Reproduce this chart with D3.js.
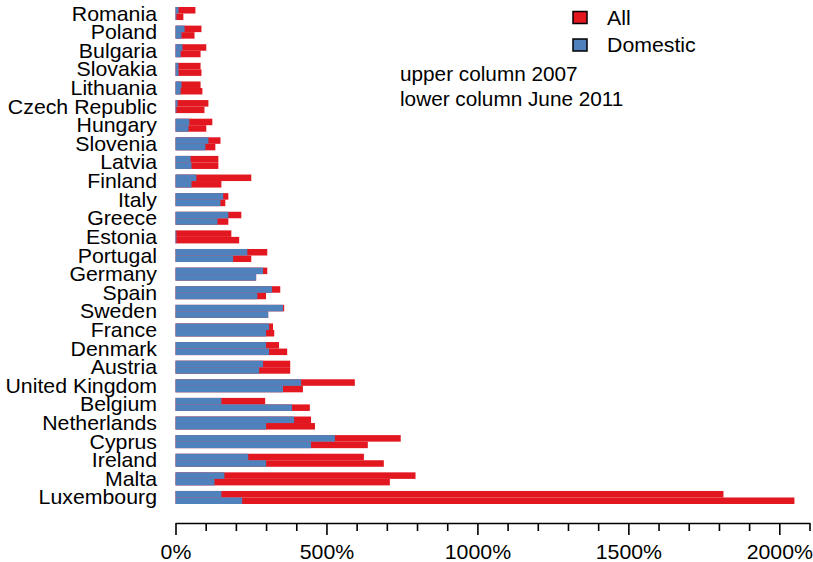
<!DOCTYPE html>
<html>
<head>
<meta charset="utf-8">
<script src="https://cdn.jsdelivr.net/npm/d3@7"></script>
<style>
  body { margin: 0; background: #fff; }
  svg { font-family: "Liberation Sans", Arial, Helvetica, sans-serif; }
</style>
</head>
<body>
<div id="chart"></div>
<script>
// countries, top to bottom
var countries = ["Romania", "Poland", "Bulgaria", "Slovakia", "Lithuania", "Czech Republic", "Hungary",
  "Slovenia", "Latvia", "Finland", "Italy", "Greece", "Estonia", "Portugal", "Germany", "Spain",
  "Sweden", "France", "Denmark", "Austria", "United Kingdom", "Belgium", "Netherlands", "Cyprus",
  "Ireland", "Malta", "Luxembourg"];

// upper column = 2007, lower column = June 2011 (percent)
var all2007 = [66, 86, 102, 83, 83, 109, 122, 149, 142, 251, 175, 218, 185, 304, 304, 347, 360, 323, 343, 380, 594, 297, 449, 746, 624, 795, 1815];
var dom2007 = [10, 30, 23, 10, 20, 7, 46, 109, 50, 69, 158, 175, 3, 238, 290, 320, 356, 310, 300, 290, 416, 152, 393, 528, 241, 162, 152];
var all2011 = [26, 63, 83, 86, 89, 96, 102, 132, 142, 152, 165, 175, 211, 251, 267, 300, 307, 327, 370, 380, 422, 445, 462, 637, 690, 710, 2050];
var dom2011 = [3, 20, 17, 10, 17, 3, 43, 99, 53, 53, 149, 139, 3, 191, 267, 271, 307, 300, 310, 277, 356, 386, 300, 449, 300, 129, 221];

var tickVals = d3.range(0, 2101, 100);
var legendNames = ["All", "Domestic"];
var notes = ["upper column 2007", "lower column June 2011"];

var red = "#e2171f", blue = "#4f81bd";
var W = 813, H = 562;
var sx = 1.065; // the original text is a bit wide

var svg = d3.select("#chart").append("svg")
    .attr("width", W)
    .attr("height", H);

var x = d3.scaleLinear()
    .domain([0, 2100])
    .range([175.5, 809.5]);

var step = 18.6;
var y = d3.scaleBand()
    .domain(countries)
    .range([7 - 0.15 * step, 504 + 0.15 * step])
    .paddingInner(0.3)
    .paddingOuter(0.15);

var bh = y.bandwidth() / 2;

// one row per country and period
var rows = [];
countries.forEach(function(c, i) {
  rows.push({c: c, off: 0, all: all2007[i], dom: dom2007[i]});
  rows.push({c: c, off: bh, all: all2011[i], dom: dom2011[i]});
});

var g = svg.append("g");
g.selectAll(".allBar")
  .data(rows)
  .enter().append("rect")
    .attr("class", "allBar")
    .attr("x", x(0))
    .attr("y", function(d) { return y(d.c) + d.off; })
    .attr("width", function(d) { return x(d.all) - x(0); })
    .attr("height", bh)
    .attr("fill", red);

g.selectAll(".domBar")
  .data(rows)
  .enter().append("rect")
    .attr("class", "domBar")
    .attr("x", x(0))
    .attr("y", function(d) { return y(d.c) + d.off; })
    .attr("width", function(d) { return x(d.dom) - x(0); })
    .attr("height", bh)
    .attr("fill", blue);

function wideText(sel, tx, ty, txt, anchor) {
  return sel.append("text")
    .attr("transform", "translate(" + tx + "," + ty + ") scale(" + sx + ",1)")
    .attr("text-anchor", anchor || "start")
    .attr("font-size", 20)
    .attr("fill", "#000")
    .text(txt);
}

// country names
var names = svg.append("g");
countries.forEach(function(c) {
  wideText(names, 157, y(c) + y.bandwidth() / 2 + 7, c, "end");
});

// x axis
var axis = svg.append("g")
    .attr("transform", "translate(0,523)")
    .call(d3.axisBottom(x)
      .tickValues(tickVals)
      .tickSize(8)
      .tickSizeOuter(0)
      .tickFormat(function(d) { return d % 500 === 0 ? d + "%" : ""; }));
axis.select(".domain").attr("stroke", "#000").attr("stroke-width", 1.6);
axis.selectAll(".tick line")
    .attr("stroke", "#000")
    .attr("stroke-width", 1.6)
    .attr("y2", function(d) { return d % 500 === 0 ? 12 : 8; });
axis.selectAll(".tick text")
    .attr("y", 0)
    .attr("dy", null)
    .attr("transform", "translate(0,36) scale(" + sx + ",1)")
    .attr("font-size", 20)
    .attr("font-family", "Liberation Sans, Arial, sans-serif")
    .attr("fill", "#000");

// legend
var leg = svg.append("g");
legendNames.forEach(function(n, i) {
  leg.append("rect")
    .attr("x", 573)
    .attr("y", 11.5 + i * 27.5)
    .attr("width", 14)
    .attr("height", 12)
    .attr("fill", i === 0 ? red : blue)
    .attr("stroke", "#000")
    .attr("stroke-width", 1.5);
  wideText(leg, 607, 25 + i * 27, n);
});

// notes
notes.forEach(function(t, i) {
  wideText(svg, 400, 81 + i * 25, t).attr("font-size", 19.5);
});
</script>
</body>
</html>
